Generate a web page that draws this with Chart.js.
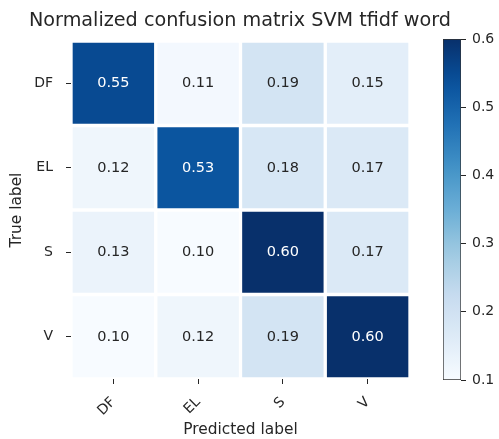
<!DOCTYPE html>
<html>
<head>
<meta charset="utf-8">
<script src="https://cdn.jsdelivr.net/npm/chart.js@4/dist/chart.umd.min.js"></script>
<style>
  html, body { margin: 0; padding: 0; background: #fff; }
  #wrap { position: relative; width: 499px; height: 439px; }
  #heat { position: absolute; left: 0; top: 0; }
  #cbar { position: absolute; left: 420px; top: 0; }
</style>
</head>
<body>
<div id="wrap">
  <canvas id="heat" width="499" height="439"></canvas>
  <canvas id="cbar" width="79" height="439"></canvas>
</div>
<script>
const predictedLabels = ['DF', 'EL', 'S', 'V'];
const trueLabels = ['DF', 'EL', 'S', 'V'];
const rowDF = [0.55, 0.11, 0.19, 0.15];
const rowEL = [0.12, 0.53, 0.18, 0.17];
const rowS = [0.13, 0.10, 0.60, 0.17];
const rowV = [0.10, 0.12, 0.19, 0.60];
const rows = [rowDF, rowEL, rowS, rowV];
const colorbarTicks = [0.1, 0.2, 0.3, 0.4, 0.5, 0.6];
const vmin = 0.1, vmax = 0.6;

// matplotlib "Blues"
const blues = ['#f7fbff', '#deebf7', '#c6dbef', '#9ecae1', '#6baed6', '#4292c6', '#2171b5', '#08519c', '#08306b'];
function hexRgb(h) {
  return [parseInt(h.slice(1, 3), 16), parseInt(h.slice(3, 5), 16), parseInt(h.slice(5, 7), 16)];
}
function bluesAt(t) {
  t = Math.max(0, Math.min(1, t));
  const p = t * (blues.length - 1);
  const i = Math.min(Math.floor(p), blues.length - 2);
  const f = p - i;
  const a = hexRgb(blues[i]), b = hexRgb(blues[i + 1]);
  const c = a.map((v, k) => Math.round(v + (b[k] - v) * f));
  return 'rgb(' + c.join(',') + ')';
}
function cellColor(v) { return bluesAt((v - vmin) / (vmax - vmin)); }

const FONT = 'DejaVu Sans';
const INK = '#262626';
Chart.defaults.font.family = FONT;
Chart.defaults.color = INK;

const cellText = {
  id: 'cellText',
  afterDatasetsDraw(chart) {
    const ctx = chart.ctx;
    ctx.save();
    ctx.font = '14.5px "' + FONT + '"';
    ctx.textAlign = 'center';
    ctx.textBaseline = 'middle';
    chart.data.datasets.forEach((ds, di) => {
      chart.getDatasetMeta(di).data.forEach((bar, j) => {
        const v = rows[di][j];
        ctx.fillStyle = v > 0.3 ? '#fff' : INK;
        ctx.fillText(v.toFixed(2), bar.x, (bar.y + bar.base) / 2);
      });
    });
    ctx.restore();
  }
};

new Chart(document.getElementById('heat'), {
  type: 'bar',
  data: {
    labels: predictedLabels,
    datasets: rows.map((vals, r) => ({
      data: vals.map(() => [r - 0.5, r + 0.5]),
      backgroundColor: vals.map(cellColor),
      borderColor: '#fff',
      borderWidth: 2,
      borderSkipped: false,
      grouped: false,
      barPercentage: 1,
      categoryPercentage: 1
    }))
  },
  options: {
    responsive: false,
    animation: false,
    layout: { padding: { left: 0, right: 19, top: 0, bottom: 0 } },
    plugins: {
      legend: { display: false },
      tooltip: { enabled: false },
      title: {
        display: true,
        text: 'Normalized confusion matrix SVM tfidf word',
        color: INK,
        font: { size: 19.2, weight: 'normal' },
        padding: { top: 9, bottom: 9 }
      }
    },
    scales: {
      x: {
        grid: { drawOnChartArea: false, offset: false, tickLength: 5, color: INK },
        border: { display: false },
        ticks: { minRotation: 45, maxRotation: 45, padding: 10, font: { size: 14 }, color: INK },
        title: { display: true, text: 'Predicted label', font: { size: 15.4 }, color: INK, padding: { top: 0, bottom: 0 } },
        afterFit(scale) { scale.height = 60; }
      },
      y: {
        type: 'linear',
        reverse: true,
        min: -0.5,
        max: 3.5,
        afterBuildTicks(scale) { scale.ticks = trueLabels.map((_, i) => ({ value: i })); },
        grid: { drawOnChartArea: false, tickLength: 5, color: INK },
        border: { display: false },
        ticks: { padding: 13, font: { size: 14 }, color: INK, callback: v => trueLabels[v] },
        title: { display: true, text: 'True label', font: { size: 15.4 }, color: INK, padding: { top: 8, bottom: 0 } },
        afterFit(scale) { scale.width = 71; }
      },
      // empty right-hand strip that leaves room for the colorbar
      yGap: {
        type: 'linear',
        position: 'right',
        grid: { display: false },
        border: { display: false },
        ticks: { display: false },
        afterFit(scale) { scale.width = 70; }
      }
    }
  },
  plugins: [cellText]
});

new Chart(document.getElementById('cbar'), {
  type: 'bar',
  data: {
    labels: [''],
    datasets: [{
      data: [[vmin, vmax]],
      backgroundColor(c) {
        const chart = c.chart;
        if (!chart.chartArea) return '#fff';
        const y = chart.scales.y;
        const g = chart.ctx.createLinearGradient(0, y.getPixelForValue(vmin), 0, y.getPixelForValue(vmax));
        for (let i = 0; i <= 20; i++) g.addColorStop(i / 20, bluesAt(i / 20));
        return g;
      },
      borderColor: '#333',
      borderWidth: 1,
      borderSkipped: false,
      barPercentage: 1,
      categoryPercentage: 1
    }]
  },
  options: {
    responsive: false,
    animation: false,
    layout: { padding: { left: 23, right: 0, top: 39, bottom: 59 } },
    plugins: { legend: { display: false }, tooltip: { enabled: false } },
    scales: {
      x: { display: false },
      y: {
        position: 'right',
        min: vmin,
        max: vmax,
        afterBuildTicks(scale) { scale.ticks = colorbarTicks.map(v => ({ value: v })); },
        grid: { drawOnChartArea: false, tickLength: 5, color: INK },
        border: { display: false },
        ticks: { padding: 6, font: { size: 14 }, color: INK, callback: v => v.toFixed(1) },
        afterFit(scale) { scale.width = 38; }
      }
    }
  }
});
</script>
</body>
</html>
